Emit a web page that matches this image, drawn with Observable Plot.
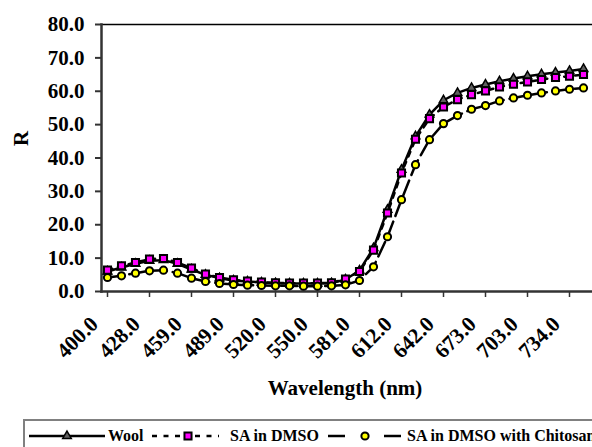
<!DOCTYPE html>
<html>
<head>
<meta charset="utf-8">
<script src="https://cdn.jsdelivr.net/npm/d3@7"></script>
<script src="https://cdn.jsdelivr.net/npm/@observablehq/plot@0.6"></script>
<style>
  html, body { margin: 0; padding: 0; background: #fff; }
  body { width: 592px; height: 447px; overflow: hidden; position: relative; font-family: "Liberation Serif", "Times New Roman", serif; }
  #chart { position: absolute; left: 0; top: 0; }
  #legend { position: absolute; left: 0; top: 418px; }
  svg, svg text { font-family: "Liberation Serif", "Times New Roman", serif !important; font-weight: bold; }
</style>
</head>
<body>
<div id="chart"></div>
<div id="legend"></div>
<script>
// Wavelength categories (nm)
const wavelengths = [400, 409, 419, 428, 438, 449, 459, 469, 479, 489, 499, 510, 520, 530, 540, 550, 560, 571, 581, 591, 601, 612, 622, 632, 642, 652, 663, 673, 683, 693, 703, 713, 724, 734, 744];
// Labelled ticks on the category axis
const tickWavelengths = [400, 428, 459, 489, 520, 550, 581, 612, 642, 673, 703, 734];
const yTicks = [0, 10, 20, 30, 40, 50, 60, 70, 80];
const seriesNames = ["Wool", "SA in DMSO", "SA in DMSO with Chitosan"];

// Reflectance values R
const wool = [6.0, 7.2, 8.3, 9.2, 9.4, 8.3, 6.6, 5.0, 4.0, 3.3, 3.0, 2.7, 2.5, 2.4, 2.4, 2.4, 2.5, 3.6, 6.3, 13.0, 24.5, 36.5, 46.5, 53.0, 57.3, 59.5, 61.0, 62.0, 63.0, 63.8, 64.5, 65.1, 65.6, 66.1, 66.7];
const saDmso = [6.4, 7.7, 8.7, 9.7, 9.9, 8.7, 7.0, 5.2, 4.2, 3.5, 3.1, 2.8, 2.6, 2.5, 2.5, 2.5, 2.6, 3.7, 6.0, 12.4, 23.5, 35.5, 45.6, 51.8, 55.3, 57.5, 59.0, 60.1, 61.3, 62.1, 62.8, 63.5, 64.1, 64.5, 65.0];
const saChitosan = [4.2, 4.7, 5.5, 6.2, 6.4, 5.5, 4.0, 3.0, 2.4, 2.1, 1.9, 1.8, 1.7, 1.7, 1.6, 1.6, 1.7, 2.0, 3.3, 7.4, 16.4, 27.5, 38.0, 45.5, 50.3, 52.7, 54.6, 55.7, 57.1, 58.0, 58.8, 59.5, 60.1, 60.6, 61.0];

const fmt = d => d.toFixed(1);
const cats = wavelengths.map(fmt);
const tickCats = tickWavelengths.map(fmt);
const rows = (vals, s) => vals.map((v, i) => ({x: cats[i], v, s}));
const woolRows = rows(wool, seriesNames[0]);
const saRows = rows(saDmso, seriesNames[1]);
const chRows = rows(saChitosan, seriesNames[2]);

const FONT = "Liberation Serif, Times New Roman, serif";

const chart = Plot.plot({
  width: 592,
  height: 418,
  marginLeft: 101,
  marginRight: 0,
  marginTop: 24,
  marginBottom: 127,
  style: {fontFamily: FONT, fontSize: "21px", fontWeight: "bold", color: "#000", background: "#fff", overflow: "visible"},
  x: {type: "point", domain: cats, range: [101.7, 589], padding: 0},
  y: {domain: [0, 80]},
  marks: [
    Plot.ruleY([80], {stroke: "#000", strokeWidth: 1.5}),
    Plot.axisY(yTicks, {tickSize: 6, tickPadding: 11, tickFormat: fmt, stroke: "#333", strokeWidth: 2, fontSize: 21, label: null}),
    Plot.frame({anchor: "left", stroke: "#333", strokeWidth: 2.5}),
    Plot.frame({anchor: "bottom", stroke: "#333", strokeWidth: 2.5}),
    Plot.axisX(tickCats, {tickSize: 6, tickFormat: () => "", stroke: "#333", strokeWidth: 1.5, label: null}),
    Plot.text(tickCats, {x: d => d, frameAnchor: "bottom", rotate: -45, textAnchor: "end", lineAnchor: "middle", dx: -13, dy: 29, fontSize: 21.5, fontWeight: "bold"}),
    Plot.text(["R"], {frameAnchor: "left", dx: -80, dy: -12, rotate: -90, fontSize: 21, fontWeight: "bold"}),
    Plot.text(["Wavelength (nm)"], {frameAnchor: "bottom", dx: -2, dy: 103, fontSize: 21, fontWeight: "bold"}),
    // Wool
    Plot.line(woolRows, {x: "x", y: "v", stroke: "#000", strokeWidth: 2.5}),
    Plot.dot(woolRows, {x: "x", y: "v", symbol: "triangle", r: 3.2, fill: "#5f5f5f", stroke: "#000", strokeWidth: 1.5}),
    // SA in DMSO
    Plot.line(saRows, {x: "x", y: "v", stroke: "#000", strokeWidth: 2.5, strokeDasharray: "5,6"}),
    Plot.dot(saRows, {x: "x", y: "v", symbol: "square", r: 4, fill: "#ff00ff", stroke: "#000", strokeWidth: 2}),
    // SA in DMSO with Chitosan
    Plot.line(chRows, {x: "x", y: "v", stroke: "#000", strokeWidth: 2.5, strokeDasharray: "16,6"}),
    Plot.dot(chRows, {x: "x", y: "v", symbol: "circle", r: 3.6, fill: "#ffff00", stroke: "#000", strokeWidth: 2})
  ]
});
document.getElementById("chart").appendChild(chart);

// Legend (below the plot)
const lg = d3.select("#legend").append("svg").attr("width", 592).attr("height", 29)
  .style("font-size", "16px");
lg.append("rect").attr("x", 24).attr("y", 2).attr("width", 620).attr("height", 40)
  .attr("fill", "#fff").attr("stroke", "#808080").attr("stroke-width", 2);
const items = [
  {name: seriesNames[0], segs: [[29, 105]], dash: null, mx: 67, tx: 108, sym: d3.symbolTriangle, size: 32, fill: "#5f5f5f", sw: 1.5},
  {name: seriesNames[1], segs: [[152, 181], [195, 219]], dash: "5,6.5", mx: 188, tx: 230, sym: d3.symbolSquare, size: 50, fill: "#ff00ff", sw: 2},
  {name: seriesNames[2], segs: [[328, 345], [384, 401]], dash: null, mx: 365, tx: 407, sym: d3.symbolCircle, size: 41, fill: "#ffff00", sw: 2}
];
const ly = 18;
items.forEach(it => {
  it.segs.forEach(([a, b]) => {
    const l = lg.append("line").attr("x1", a).attr("x2", b).attr("y1", ly).attr("y2", ly)
      .attr("stroke", "#000").attr("stroke-width", 2.5);
    if (it.dash) l.attr("stroke-dasharray", it.dash);
  });
  lg.append("path").attr("transform", `translate(${it.mx},${ly})`)
    .attr("d", d3.symbol(it.sym, it.size)()).attr("fill", it.fill).attr("stroke", "#000").attr("stroke-width", it.sw);
  lg.append("text").attr("x", it.tx).attr("y", 23).text(it.name);
});
</script>
</body>
</html>
